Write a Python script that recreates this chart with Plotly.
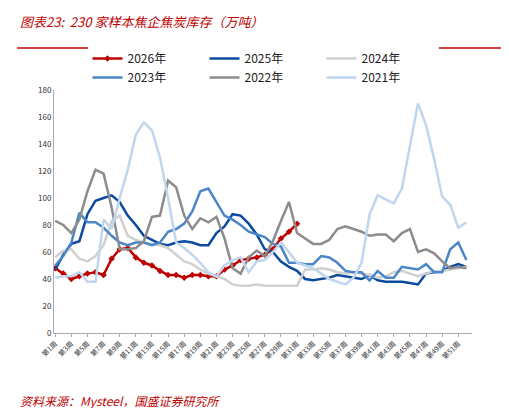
import plotly.graph_objects as go

weeks = list(range(1, 53))
tick_vals = list(range(1, 52, 2))
tick_text = [f"第{w}周" for w in tick_vals]

y2026 = [48,44,40,42,44,45,43,55,62,63,56,52,50,46,43,43,41,43,43,42,42,47,50,54,55,56,58,62,70,75,81]
y2025 = [47,58,66,68,88,98,100,102,97,87,80,72,69,66,65,67,68,67,65,65,74,79,88,87,81,73,62,60,53,49,46,40,39,40,41,43,42,41,40,43,39,38,38,38,37,36,44,45,46,49,51,49]
y2024 = [56,61,62,55,53,57,65,83,87,72,69,67,66,65,63,58,53,51,47,44,42,40,36,35,35,36,35,35,35,35,35,47,47,48,47,45,44,45,44,43,41,42,45,46,44,42,44,46,46,47,48,49]
y2023 = [50,57,67,89,82,82,78,72,67,65,67,67,65,67,75,77,81,90,105,107,97,87,84,80,75,73,71,66,64,52,52,51,51,57,56,52,46,45,45,39,46,41,41,49,48,47,51,45,45,62,67,54]
y2022 = [83,80,74,84,105,121,118,93,62,62,63,68,86,87,113,108,87,77,85,82,86,70,48,44,56,61,57,68,83,97,74,70,66,66,69,77,79,77,75,72,73,73,68,74,77,60,62,59,53,48,49,48]
y2021 = [41,42,42,45,38,38,84,77,100,121,147,156,150,130,100,67,63,58,52,45,42,50,54,56,45,53,54,60,67,60,52,50,48,44,40,38,36,41,52,88,102,99,96,107,139,170,154,129,101,95,78,82]

series = [
    ("2026年", y2026, "#C00000"),
    ("2025年", y2025, "#0B4A9E"),
    ("2024年", y2024, "#D0D0D0"),
    ("2023年", y2023, "#4A86C8"),
    ("2022年", y2022, "#8C8C8C"),
    ("2021年", y2021, "#C0D6EE"),
]

fig = go.Figure()
for name, ys, color in series:
    if name == "2026年":
        kw = dict(mode="lines+markers", marker=dict(symbol="diamond", size=5, color=color))
    else:
        kw = dict(mode="lines")
    fig.add_trace(go.Scatter(x=weeks[:len(ys)], y=ys, name=name,
                             line=dict(color=color, width=2.5), **kw))

H_PLOT = 408 - 82 - 83
def py(y_px):
    return (408 - y_px - 83) / H_PLOT

fig.update_layout(
    width=509, height=408,
    margin=dict(l=46, r=45, t=82, b=83, autoexpand=False),
    paper_bgcolor="white", plot_bgcolor="white",
    font=dict(family="Noto Sans CJK SC, sans-serif", size=9, color="#333"),
    legend=dict(orientation="h", x=0.5, xanchor="center", y=py(60), yanchor="middle",
                font=dict(size=12, color="#222"), entrywidth=72, entrywidthmode="pixels",
                traceorder="normal", itemwidth=30, tracegroupgap=0),
    showlegend=True,
)
fig.update_xaxes(range=[0.85, 52.7], tickmode="array", tickvals=tick_vals, ticktext=tick_text,
                 tickangle=-45, tickfont=dict(size=7), showgrid=False, showline=True,
                 linecolor="#AAAAAA", ticks="outside", ticklen=3, tickcolor="#AAAAAA")
fig.update_yaxes(range=[0, 180], dtick=20, showgrid=False, showline=True,
                 linecolor="#AAAAAA", tickfont=dict(size=8), zeroline=False)

fig.add_annotation(text="<i>图表23:  230 家样本焦企焦炭库存（万吨）</i>", xref="paper", yref="paper",
                   x=-0.085, y=py(14), xanchor="left", yanchor="middle", showarrow=False,
                   font=dict(size=13, color="#C00000"))
fig.add_shape(type="line", xref="paper", yref="paper", x0=-0.088, x1=1.095,
              y0=py(40), y1=py(40), line=dict(color="#C00000", width=1.5))
fig.add_annotation(text="<i>资料来源：Mysteel，国盛证券研究所</i>", xref="paper", yref="paper",
                   x=-0.085, y=py(392), xanchor="left", yanchor="middle", showarrow=False,
                   font=dict(size=12, color="#C00000"))

fig.write_html("out.html")
